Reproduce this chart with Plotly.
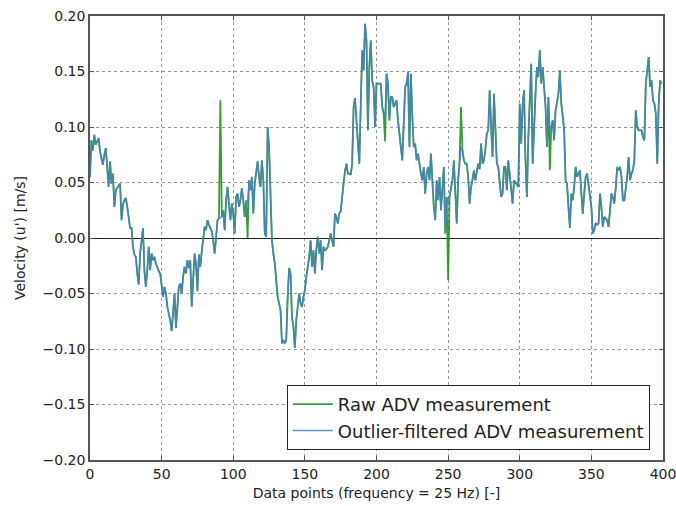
import plotly.graph_objects as go

# Outlier-filtered ADV velocity series (u') [m/s], data points 0..399
filtered = [
    0.055, 0.088, 0.079, 0.093, 0.084, 0.087, 0.090, 0.078, 0.072, 0.066,
    0.075, 0.081, 0.064, 0.046, 0.069, 0.049, 0.058, 0.028, 0.043, 0.045,
    0.046, 0.049, 0.016, 0.030, 0.034, 0.036, 0.028, 0.020, 0.009, 0.009,
    -0.008, -0.015, -0.017, -0.032, -0.042, -0.014, 0.000, 0.009, -0.030, -0.044,
    -0.029, -0.008, -0.029, -0.014, -0.020, -0.017, -0.023, -0.027, -0.030, -0.032,
    -0.044, -0.053, -0.044, -0.050, -0.062, -0.068, -0.074, -0.084, -0.065, -0.050,
    -0.081, -0.060, -0.044, -0.041, -0.050, -0.035, -0.026, -0.032, -0.020, -0.027,
    -0.020, -0.062, -0.032, -0.014, -0.023, -0.048, -0.015, -0.026, -0.012, 0.001,
    0.010, 0.007, 0.016, 0.012, 0.008, 0.006, -0.002, -0.014, 0.000, 0.016,
    0.018, 0.018, 0.019, 0.025, 0.007, 0.034, 0.046, 0.028, 0.016, 0.031,
    0.022, 0.004, 0.037, 0.040, 0.028, 0.034, 0.045, 0.034, 0.019, 0.034,
    0.030, 0.052, 0.043, 0.055, 0.022, 0.049, 0.058, 0.069, 0.055, 0.046,
    0.070, 0.052, 0.004, 0.001, 0.100, 0.082, 0.040, -0.002, -0.014, -0.023,
    -0.038, -0.053, -0.059, -0.065, -0.095, -0.092, -0.095, -0.092, -0.053, -0.027,
    -0.032, -0.071, -0.080, -0.099, -0.074, -0.060, -0.050, -0.059, -0.062, -0.053,
    -0.047, -0.035, -0.026, -0.017, -0.002, -0.026, -0.011, -0.032, -0.010, 0.001,
    -0.014, -0.002, -0.029, -0.008, -0.011, -0.010, -0.008, -0.002, 0.004, -0.002,
    -0.008, 0.022, 0.019, 0.013, 0.022, 0.024, 0.034, 0.049, 0.060, 0.067,
    0.058, 0.058, 0.057, 0.067, 0.118, 0.126, 0.106, 0.082, 0.067, 0.120,
    0.169, 0.151, 0.193, 0.178, 0.097, 0.154, 0.178, 0.142, 0.136, 0.100,
    0.139, 0.139, 0.139, 0.139, 0.118, 0.112, 0.109, 0.148, 0.139, 0.106,
    0.127, 0.127, 0.118, 0.121, 0.124, 0.106, 0.094, 0.085, 0.070, 0.103,
    0.136, 0.139, 0.150, 0.082, 0.148, 0.110, 0.082, 0.085, 0.070, 0.076,
    0.064, 0.058, 0.052, 0.064, 0.040, 0.058, 0.064, 0.052, 0.076, 0.050,
    0.028, 0.016, 0.052, 0.034, 0.055, 0.025, 0.050, 0.064, 0.004, 0.037,
    0.030, 0.037, 0.045, 0.052, 0.070, 0.046, 0.013, 0.052, 0.070, 0.082,
    0.079, 0.070, 0.067, 0.067, 0.055, 0.031, 0.046, 0.052, 0.061, 0.052,
    0.060, 0.067, 0.062, 0.085, 0.067, 0.070, 0.080, 0.094, 0.097, 0.133,
    0.100, 0.073, 0.130, 0.090, 0.067, 0.064, 0.046, 0.037, 0.040, 0.064,
    0.064, 0.043, 0.070, 0.055, 0.043, 0.031, 0.052, 0.050, 0.049, 0.046,
    0.121, 0.085, 0.120, 0.133, 0.070, 0.037, 0.091, 0.127, 0.157, 0.067,
    0.109, 0.130, 0.154, 0.145, 0.169, 0.139, 0.154, 0.136, 0.118, 0.082,
    0.127, 0.097, 0.100, 0.106, 0.088, 0.115, 0.121, 0.130, 0.151, 0.121,
    0.110, 0.097, 0.052, 0.049, 0.028, 0.009, 0.040, 0.034, 0.046, 0.064,
    0.055, 0.058, 0.061, 0.040, 0.022, 0.040, 0.055, 0.058, 0.046, 0.035,
    0.028, 0.004, 0.007, 0.013, 0.012, 0.013, 0.040, 0.028, 0.010, 0.019,
    0.017, 0.016, 0.010, 0.028, 0.040, 0.037, 0.031, 0.045, 0.064, 0.061,
    0.064, 0.055, 0.034, 0.034, 0.045, 0.055, 0.073, 0.052, 0.058, 0.061,
    0.070, 0.115, 0.100, 0.097, 0.097, 0.097, 0.091, 0.088, 0.139, 0.151,
    0.163, 0.136, 0.142, 0.124, 0.121, 0.112, 0.067, 0.121, 0.142, 0.139,
]

# Raw samples that the filter replaced (index -> raw value)
outlier_idx = [91, 110, 206, 250, 259, 321]
outlier_raw = [0.124, 0.000, 0.087, -0.038, 0.118, 0.061]

raw = list(filtered)
for i, v in zip(outlier_idx, outlier_raw):
    raw[i] = v
x = list(range(len(filtered)))

x_ticks = [0, 50, 100, 150, 200, 250, 300, 350, 400]
y_ticks = [-0.20, -0.15, -0.10, -0.05, 0.00, 0.05, 0.10, 0.15, 0.20]

fig = go.Figure()
fig.add_trace(go.Scatter(x=x, y=raw, mode="lines", name="Raw ADV measurement",
                         line=dict(color="rgba(20,140,20,0.85)", width=1.8)))
fig.add_trace(go.Scatter(x=x, y=filtered, mode="lines", name="Outlier-filtered ADV measurement",
                         line=dict(color="rgba(70,130,195,0.85)", width=1.5)))

axis_common = dict(showline=True, linecolor="#555", linewidth=1.5, mirror="ticks",
                   ticks="inside", ticklen=4, tickcolor="#555", automargin=False,
                   ticklabeloverflow="allow",
                   showgrid=True, gridcolor="rgba(0,0,0,0.4)", griddash="dot", gridwidth=1,
                   tickfont=dict(family="DejaVu Sans", size=14, color="#222"))

fig.update_xaxes(range=[0, 400], tickvals=x_ticks, zeroline=False,
                 title=dict(text="Data points (frequency = 25 Hz) [-]",
                            font=dict(family="DejaVu Sans", size=14, color="#222"), standoff=8),
                 **axis_common)
fig.update_yaxes(range=[-0.20, 0.20], tickvals=y_ticks, tickformat=".2f",
                 zeroline=True, zerolinecolor="#222", zerolinewidth=1.3,
                 title=dict(text="Velocity (u') [m/s]",
                            font=dict(family="DejaVu Sans", size=14, color="#222"), standoff=14),
                 **axis_common)

fig.update_layout(
    width=676, height=506,
    margin=dict(l=90, r=13, t=16, b=46),
    paper_bgcolor="white", plot_bgcolor="white",
    font=dict(family="DejaVu Sans", color="#222"),
    legend=dict(x=0.977, y=0.0225, xanchor="right", yanchor="bottom",
                bordercolor="#222", borderwidth=1, bgcolor="white",
                font=dict(family="DejaVu Sans", size=18, color="#222"),
                tracegroupgap=0, itemwidth=40),
    showlegend=True,
)

fig.write_html("out.html")
